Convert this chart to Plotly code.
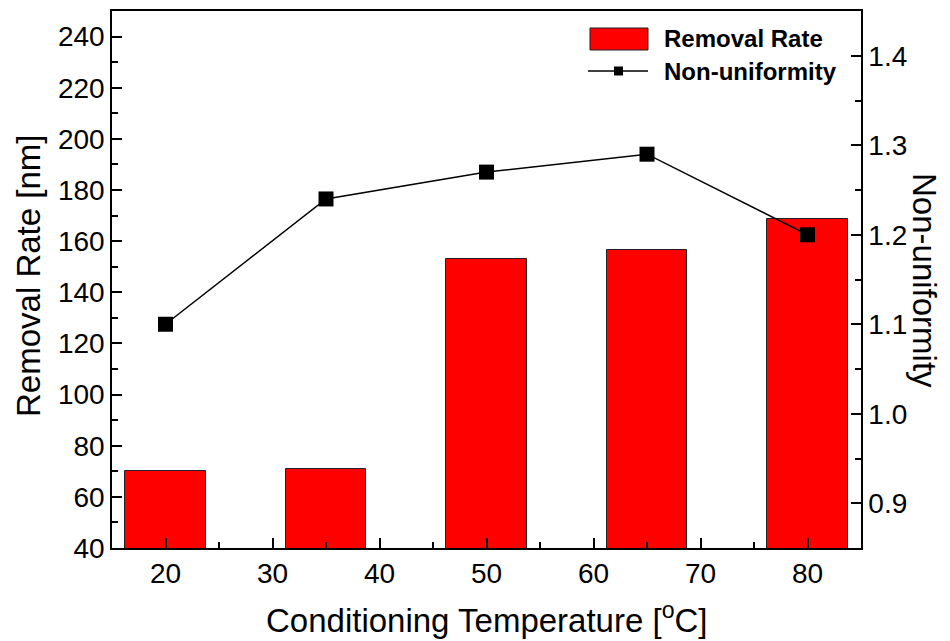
import plotly.graph_objects as go

# ---- data ----
temperatures = [20, 35, 50, 65, 80]
removal_rate = [70, 71, 153, 156.5, 168.5]
non_uniformity = [1.10, 1.24, 1.27, 1.29, 1.20]

FONT = "Liberation Sans, Arial, Helvetica, sans-serif"
W, H = 950, 641
L, R, T, B = 112, 89, 11, 93

fig = go.Figure()
fig.add_trace(go.Bar(
    x=temperatures, y=removal_rate, width=7.5,
    marker=dict(color="#ff0000", line=dict(color="#222222", width=1)),
    name="Removal Rate", showlegend=False,
))
fig.add_trace(go.Scatter(
    x=temperatures, y=non_uniformity, yaxis="y2", mode="lines+markers",
    line=dict(color="black", width=1.5),
    marker=dict(symbol="square", size=15, color="black"),
    name="Non-uniformity", showlegend=False,
))

axis_common = dict(
    showline=True, linecolor="black", linewidth=1.5,
    ticks="inside", ticklen=10, tickwidth=1.5, tickcolor="black",
    showgrid=False, zeroline=False, automargin=False,
    tickfont=dict(family=FONT, size=28, color="black"),
)

fig.update_layout(
    width=W, height=H,
    margin=dict(l=L, r=R, t=T, b=B, autoexpand=False),
    paper_bgcolor="white", plot_bgcolor="white",
    font=dict(family=FONT, color="black"),
    xaxis=dict(
        range=[15, 85], dtick=10, tick0=0, mirror=True,
        minor=dict(dtick=5, ticklen=6, tickwidth=1.5, tickcolor="black", ticks="inside"),
        **axis_common,
    ),
    yaxis=dict(
        range=[40, 250], dtick=20, tick0=0,
        minor=dict(dtick=10, ticklen=6, tickwidth=1.5, tickcolor="black", ticks="inside"),
        **axis_common,
    ),
    yaxis2=dict(
        overlaying="y", side="right", range=[0.85, 1.45], dtick=0.1, tick0=0,
        tickformat=".1f",
        minor=dict(dtick=0.05, ticklen=6, tickwidth=1.5, tickcolor="black", ticks="inside"),
        **axis_common,
    ),
    bargap=0,
)

def px(x):
    return (x - L) / (W - L - R)

def py(y):
    return 1 - (y - T) / (H - T - B)

shapes = [
    dict(type="rect", xref="paper", yref="paper",
         x0=px(590), x1=px(648), y0=py(50), y1=py(28),
         fillcolor="#ff0000", line=dict(color="#222222", width=1)),
    dict(type="line", xref="paper", yref="paper",
         x0=px(588), x1=px(648), y0=py(71), y1=py(71),
         line=dict(color="black", width=1.5)),
    dict(type="rect", xref="paper", yref="paper",
         x0=px(614), x1=px(623), y0=py(75.5), y1=py(66.5),
         fillcolor="black", line=dict(color="black", width=0)),
]
fig.update_layout(shapes=shapes)

title_font = dict(family=FONT, size=33, color="black")
annotations = [
    dict(text="<b>Removal Rate</b>", xref="paper", yref="paper",
         x=px(662), y=py(39), xanchor="left", yanchor="middle", showarrow=False,
         font=dict(family=FONT, size=24, color="black")),
    dict(text="<b>Non-uniformity</b>", xref="paper", yref="paper",
         x=px(662), y=py(71), xanchor="left", yanchor="middle", showarrow=False,
         font=dict(family=FONT, size=24, color="black")),
    dict(text="Conditioning Temperature [<sup>o</sup>C]", xref="paper", yref="paper",
         x=px(486), y=py(618), xanchor="center", yanchor="middle", showarrow=False,
         font=title_font),
    dict(text="Removal Rate [nm]", xref="paper", yref="paper",
         x=px(28), y=py(276), xanchor="center", yanchor="middle", showarrow=False,
         textangle=-90, font=title_font),
    dict(text="Non-uniformity", xref="paper", yref="paper",
         x=px(925), y=py(281), xanchor="center", yanchor="middle", showarrow=False,
         textangle=90, font=title_font),
]
fig.update_layout(annotations=annotations)

fig.write_html("out.html")
